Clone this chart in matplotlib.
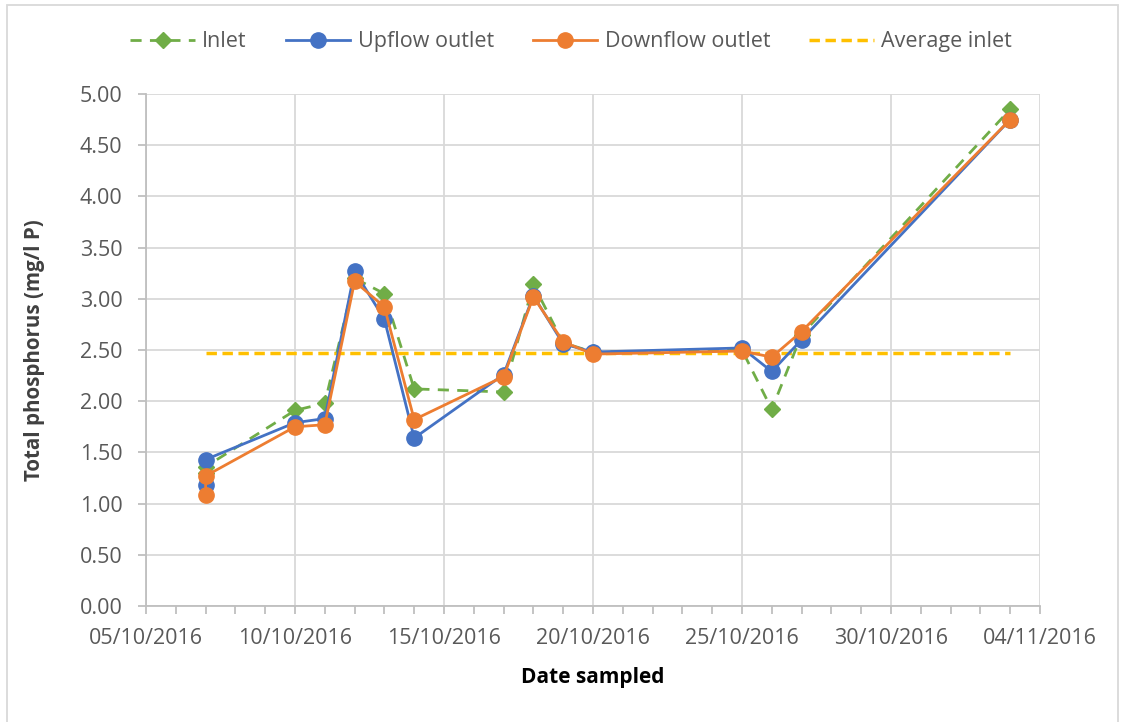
import numpy as np
import pandas as pd
import matplotlib
matplotlib.use('Agg')
import matplotlib.pyplot as plt
import matplotlib.dates as mdates
from matplotlib.patches import Rectangle

plt.rcParams['font.family'] = ['Open Sans', 'DejaVu Sans']

# sampling dates (two samples on 07/10)
dates = pd.to_datetime(['2016-10-07', '2016-10-07', '2016-10-10', '2016-10-11', '2016-10-12',
                        '2016-10-13', '2016-10-14', '2016-10-17', '2016-10-18', '2016-10-19',
                        '2016-10-20', '2016-10-25', '2016-10-26', '2016-10-27', '2016-11-03'])
inlet = [1.30, 1.36, 1.91, 1.98, 3.20, 3.05, 2.12, 2.09, 3.14, 2.57, 2.48, 2.50, 1.92, 2.65, 4.85]
upflow = [1.18, 1.43, 1.79, 1.83, 3.27, 2.80, 1.64, 2.26, 3.03, 2.56, 2.48, 2.52, 2.29, 2.60, 4.75]
downflow = [1.08, 1.27, 1.75, 1.77, 3.17, 2.92, 1.82, 2.24, 3.02, 2.58, 2.46, 2.49, 2.43, 2.68, 4.75]
avg_inlet = 2.47
x_ticks = ['2016-10-05', '2016-10-10', '2016-10-15', '2016-10-20',
           '2016-10-25', '2016-10-30', '2016-11-04']
y_ticks = np.arange(0, 5.01, 0.5)

green = '#70AD47'
blue = '#4472C4'
orange = '#ED7D31'
gold = '#FFC000'
grid = '#D9D9D9'
text = '#595959'

fig = plt.figure(figsize=(11.25, 7.22), dpi=100)
fig.patches.append(Rectangle((7 / 1125, -0.01), 1111 / 1125, 1 - 5 / 722 + 0.01,
                             transform=fig.transFigure, fill=False, ec=grid, lw=1.3))
ax = fig.add_axes([0.1298, 0.1607, 0.7946, 0.7091])

ax.plot(dates, inlet, color=green, ls=(0, (4, 3)), lw=2, marker='D', ms=8,
        label='Inlet', zorder=3)
ax.plot(dates, upflow, color=blue, lw=2, marker='o', ms=11, label='Upflow outlet', zorder=4)
ax.plot(dates, downflow, color=orange, lw=2, marker='o', ms=11, label='Downflow outlet', zorder=5)
ax.plot([dates[0], dates[-1]], [avg_inlet, avg_inlet], color=gold, ls=(0, (3, 1.6)), lw=2.5,
        label='Average inlet', zorder=2)

ax.set_xlim(pd.Timestamp('2016-10-05'), pd.Timestamp('2016-11-04'))
ax.set_ylim(0, 5)
ax.set_yticks(y_ticks)
ax.set_yticklabels([f'{v:.2f}' for v in y_ticks])
ax.set_xticks(pd.to_datetime(x_ticks))
ax.xaxis.set_major_formatter(mdates.DateFormatter('%d/%m/%Y'))
ax.xaxis.set_minor_locator(mdates.DayLocator())

ax.grid(True, which='major', color=grid, lw=1.3)
ax.set_axisbelow(True)
for s in ['top', 'right']:
    ax.spines[s].set_visible(False)
for s in ['left', 'bottom']:
    ax.spines[s].set_color('#BFBFBF')
    ax.spines[s].set_linewidth(1.3)
ax.tick_params(axis='y', length=6, color='#BFBFBF', width=1.3,
               labelsize=15.5, labelcolor=text, pad=11)
ax.tick_params(axis='x', which='both', length=6, color='#BFBFBF', width=1.3,
               labelsize=15.5, labelcolor=text, pad=10)

ax.set_xlabel('Date sampled', fontsize=15, fontweight='bold', labelpad=13)
ax.set_ylabel('Total phosphorus (mg/l P)', fontsize=14.8, fontweight='bold', color='#404040',
              labelpad=25)

fig.legend(loc='center', bbox_to_anchor=(0.5076, 0.942), ncol=4, frameon=False,
           fontsize=15.5, handlelength=3.0, handletextpad=0.35, columnspacing=1.8,
           labelcolor=text)

fig.savefig('out.png', dpi=100)
